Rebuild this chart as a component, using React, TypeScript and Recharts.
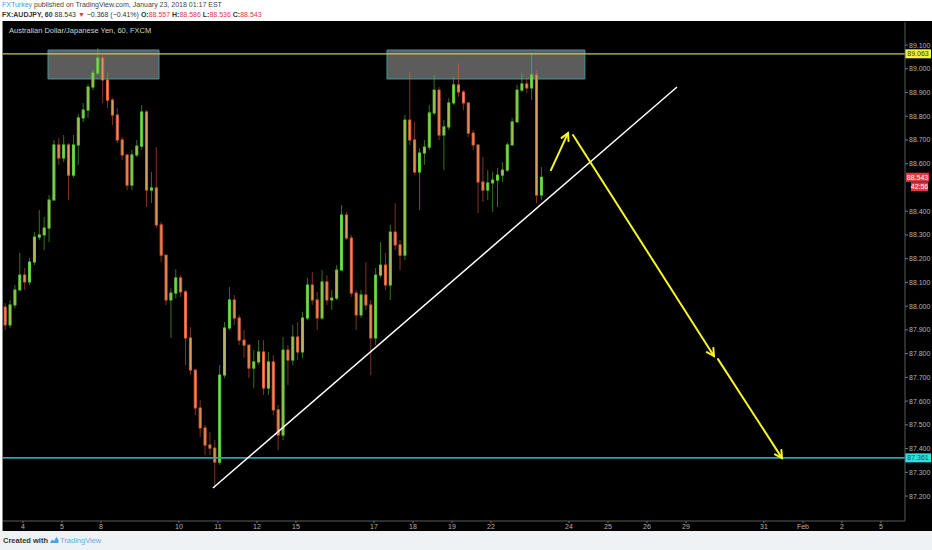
import React from 'react';
import {
    Bar,
    ComposedChart,
    ReferenceArea,
    ReferenceLine,
    XAxis,
    YAxis,
} from 'recharts';

// 3-hour candles, hours counted from the start of Jan 4 (trading hours only)
const FIRST_HOUR = -11;
const STEP_HOURS = 3;
const FIRST_OPEN = 87.996;

const closes = [
    87.921, 88.005, 88.068, 88.131, 88.102, 88.186, 88.291, 88.3, 88.329, 88.447,
    88.679, 88.624, 88.679, 88.552, 88.679, 88.793, 88.826, 88.923, 88.982, 89.045,
    88.953, 88.868, 88.805, 88.7, 88.637, 88.51, 88.637, 88.674, 88.818, 88.489,
    88.498, 88.342, 88.215, 88.026, 88.055, 88.119, 88.06, 87.866, 87.731, 87.571,
    87.487, 87.415, 87.402, 87.343, 87.71, 87.908, 88.026, 87.95, 87.857, 87.836,
    87.739, 87.765, 87.807, 87.655, 87.765, 87.563, 87.457, 87.815, 87.773, 87.87,
    87.807, 87.95, 88.089, 88.026, 87.95, 88.102, 88.026, 88.034, 88.152, 88.384,
    88.287, 88.055, 87.963, 88.047, 88.005, 87.866, 88.131, 88.173, 88.089, 88.312,
    88.258, 88.215, 88.784, 88.7, 88.565, 88.645, 88.67, 88.814, 88.91, 88.721,
    88.755, 88.856, 88.932, 88.902, 88.856, 88.729, 88.679, 88.523, 88.489, 88.519,
    88.531, 88.552, 88.573, 88.679, 88.776, 88.91, 88.936, 88.919, 88.974, 88.468,
    88.543,
];

const highs = [
    88.013, 88.026, 88.089, 88.224, 88.161, 88.203, 88.312, 88.405, 88.375, 88.468,
    88.7, 88.708, 88.721, 88.687, 88.721, 88.809, 88.856, 88.936, 88.995, 89.087,
    89.058, 88.986, 88.877, 88.835, 88.712, 88.637, 88.658, 88.7, 88.847, 88.826,
    88.565, 88.67, 88.354, 88.215, 88.076, 88.156, 88.131, 88.068, 87.912, 87.731,
    87.605, 87.499, 87.47, 87.436, 87.752, 87.933, 88.081, 88.047, 87.963, 87.899,
    87.836, 87.815, 87.857, 87.857, 87.807, 87.794, 87.584, 87.87, 87.836, 87.921,
    87.933, 87.975, 88.119, 88.144, 88.06, 88.152, 88.131, 88.068, 88.173, 88.426,
    88.397, 88.3, 88.068, 88.068, 88.186, 88.026, 88.161, 88.27, 88.224, 88.342,
    88.434, 88.279, 88.805, 88.986, 88.776, 88.666, 88.7, 88.847, 88.974, 88.923,
    88.784, 88.877, 88.965, 89.024, 88.91, 88.856, 88.742, 88.679, 88.628, 88.573,
    88.565, 88.582, 88.607, 88.691, 88.793, 88.932, 88.982, 88.961, 89.066, 88.995,
    88.586,
];

const lows = [
    87.899, 87.908, 87.992, 88.068, 88.068, 88.089, 88.173, 88.279, 88.236, 88.27,
    88.447, 88.595, 88.607, 88.447, 88.54, 88.595, 88.776, 88.793, 88.91, 88.974,
    88.856, 88.835, 88.763, 88.687, 88.616, 88.489, 88.489, 88.628, 88.658, 88.418,
    88.434, 88.329, 88.186, 88.005, 87.866, 88.034, 88.039, 87.752, 87.71, 87.541,
    87.449, 87.373, 87.373, 87.234, 87.331, 87.697, 87.899, 87.921, 87.836, 87.782,
    87.697, 87.655, 87.752, 87.626, 87.626, 87.541, 87.394, 87.436, 87.668, 87.752,
    87.773, 87.782, 87.942, 88.005, 87.899, 87.942, 88.005, 87.984, 88.026, 88.161,
    88.279, 88.039, 87.899, 87.95, 87.984, 87.71, 87.836, 88.119, 88.068, 88.026,
    88.236, 88.152, 88.194, 88.679, 88.552, 88.405, 88.595, 88.658, 88.805, 88.7,
    88.573, 88.742, 88.847, 88.881, 88.826, 88.712, 88.658, 88.392, 88.439, 88.447,
    88.397, 88.418, 88.523, 88.565, 88.691, 88.784, 88.902, 88.898, 88.868, 88.434,
    88.447,
];

// x axis: trading day start (in hours) and its label
const dayTicks = [0, 24, 48, 96, 120, 144, 168, 216, 240, 264, 288, 336, 360, 384, 408, 456, 480, 504, 528];
const dayLabels = ['4', '5', '8', '10', '11', '12', '15', '17', '18', '19', '22', '24', '25', '26', '29', '31', 'Feb', '2', '5'];

// 88.500 sits under the last-price tags, so it is left out
const priceTicks = [
    87.2, 87.3, 87.4, 87.5, 87.6, 87.7, 87.8, 87.9, 88.0, 88.1,
    88.2, 88.3, 88.4, 88.6, 88.7, 88.8, 88.9, 89.0, 89.1,
];

const X_DOMAIN = [-12.3, 542.8];
const Y_DOMAIN = [87.095, 89.197];

// drawings: [hour, price]
const resistanceLevel = 89.063;
const supportLevel = 87.361;
const lastPrice = 88.543;
const zones = [
    { x1: 15.4, x2: 83.7, y1: 88.957, y2: 89.079 },
    { x1: 224, x2: 345.8, y1: 88.957, y2: 89.079 },
];
const trendLine = [[116.9, 87.234], [402.5, 88.923]];
const arrows = [
    [[324.9, 88.573], [335.4, 88.729]],
    [[338.5, 88.721], [425.2, 87.79]],
    [[427.7, 87.777], [467.1, 87.36]],
];

const candles = closes.map((close, i) => {
    const open = i === 0 ? FIRST_OPEN : closes[i - 1];
    return {
        t: FIRST_HOUR + STEP_HOURS * i,
        open,
        close,
        high: highs[i],
        low: lows[i],
        range: [lows[i], highs[i]],
    };
});

function Candle(props: any) {
    const { x, y, width, height, payload } = props;
    if (payload == null || height == null) return null;
    const { open, close, high, low } = payload;
    const top = Math.min(y, y + height);
    const h = Math.abs(height);
    const k = high - low > 0 ? h / (high - low) : 0;
    const bodyTop = top + (high - Math.max(open, close)) * k;
    const bodyBottom = top + (high - Math.min(open, close)) * k;
    const up = close >= open;
    const edge = up ? '#5cd23c' : '#e5603c';
    const cx = x + width / 2;
    return (
        <g>
            <line x1={cx} x2={cx} y1={top} y2={top + h} stroke={edge} strokeOpacity={0.55} strokeWidth={1} />
            <rect
                x={cx - 1}
                y={bodyTop}
                width={2}
                height={Math.max(bodyBottom - bodyTop, 1)}
                fill={up ? '#c3b066' : '#d6a25c'}
                stroke={edge}
                strokeWidth={1}
            />
        </g>
    );
}

function Arrow(props: any) {
    const { x1, y1, x2, y2 } = props;
    const angle = Math.atan2(y2 - y1, x2 - x1);
    const len = 8;
    const spread = 0.5;
    const ax = x2 - len * Math.cos(angle - spread);
    const ay = y2 - len * Math.sin(angle - spread);
    const bx = x2 - len * Math.cos(angle + spread);
    const by = y2 - len * Math.sin(angle + spread);
    return (
        <g stroke="#f6f62a" strokeWidth={2} strokeLinecap="round" fill="none">
            <line x1={x1} y1={y1} x2={x2} y2={y2} />
            <polyline points={`${ax},${ay} ${x2},${y2} ${bx},${by}`} />
        </g>
    );
}

function priceTag(text: string, bg: string, fg: string, dy = 0, dx = 0, w = 26) {
    return (props: any) => {
        const vb = props.viewBox;
        if (!vb) return null;
        const x = vb.x + vb.width + dx;
        const y = vb.y + dy;
        return (
            <g>
                <rect x={x} y={y - 4.5} width={w} height={9} fill={bg} />
                <text x={x + w / 2} y={y + 2.5} textAnchor="middle" fontSize={7} fill={fg} fontFamily="Liberation Sans, Arial, sans-serif">
                    {text}
                </text>
            </g>
        );
    };
}

const red = '#e0393e';

export default function App() {
    return (
        <div
            style={{
                position: 'absolute',
                left: 0,
                top: 0,
                width: 932,
                height: 550,
                background: '#ffffff',
                fontFamily: 'Liberation Sans, Arial, sans-serif',
                overflow: 'hidden',
            }}
        >
            <div style={{ position: 'absolute', left: 2, top: 1, fontSize: 7, color: '#444', whiteSpace: 'nowrap' }}>
                <span style={{ color: '#3f9bd8' }}>FXTurkey</span> published on TradingView.com, January 23, 2018 01:17 EST
            </div>
            <div style={{ position: 'absolute', left: 2, top: 10.5, fontSize: 7, color: '#333', whiteSpace: 'nowrap' }}>
                <b>FX:AUDJPY, 60</b> 88.543 <span style={{ color: red }}>▼</span> −0.368 (−0.41%) <b>O:</b>
                <span style={{ color: red }}>88.557</span> <b>H:</b>
                <span style={{ color: red }}>88.586</span> <b>L:</b>
                <span style={{ color: red }}>88.536</span> <b>C:</b>
                <span style={{ color: red }}>88.543</span>
            </div>

            <div
                style={{
                    position: 'absolute',
                    left: 2,
                    top: 21,
                    width: 930,
                    height: 510,
                    background: '#000000',
                    borderLeft: '1px solid #8a8a8a',
                    boxSizing: 'border-box',
                }}
            >
                <ComposedChart width={929} height={510} data={candles} margin={{ top: 1, right: 0, left: 0, bottom: 0 }}>
                    <XAxis
                        dataKey="t"
                        type="number"
                        domain={X_DOMAIN}
                        allowDataOverflow
                        ticks={dayTicks}
                        tickFormatter={(v: number) => dayLabels[dayTicks.indexOf(v)] ?? ''}
                        tick={{ fontSize: 7, fill: '#b4b4b4' }}
                        tickSize={2}
                        tickMargin={1}
                        tickLine={{ stroke: '#777' }}
                        axisLine={{ stroke: '#5a5a5a' }}
                        height={10}
                        interval={0}
                    />
                    <YAxis
                        orientation="right"
                        type="number"
                        domain={Y_DOMAIN}
                        allowDataOverflow
                        ticks={priceTicks}
                        tickFormatter={(v: number) => v.toFixed(3)}
                        tick={{ fontSize: 7, fill: '#b4b4b4' }}
                        tickSize={3}
                        tickMargin={1}
                        tickLine={{ stroke: '#777' }}
                        axisLine={{ stroke: '#5a5a5a' }}
                        width={27}
                        interval={0}
                    />
                    <Bar dataKey="range" barSize={3} shape={<Candle />} isAnimationActive={false} />
                    {zones.map((z, i) => (
                        <ReferenceArea
                            key={i}
                            x1={z.x1}
                            x2={z.x2}
                            y1={z.y1}
                            y2={z.y2}
                            fill="#9a9a9a"
                            fillOpacity={0.6}
                            stroke="#3f9a9a"
                            strokeWidth={1}
                            ifOverflow="visible"
                        />
                    ))}
                    <ReferenceLine
                        y={resistanceLevel}
                        stroke="#c6c84a"
                        strokeWidth={1.2}
                        label={priceTag('89.063', '#f4f43a', '#333', 0, 0)}
                    />
                    <ReferenceLine
                        y={supportLevel}
                        stroke="#2fa5a5"
                        strokeWidth={1.6}
                        label={priceTag('87.361', '#2fe0e0', '#1b4f4f', 0, 0)}
                    />
                    <ReferenceLine
                        y={lastPrice}
                        strokeOpacity={0}
                        label={priceTag('88.543', red, '#ffffff', 0, 1, 23)}
                    />
                    <ReferenceLine
                        y={lastPrice}
                        strokeOpacity={0}
                        label={priceTag('42:56', red, '#ffffff', 9.5, 6, 17)}
                    />
                    <ReferenceLine
                        segment={[
                            { x: trendLine[0][0], y: trendLine[0][1] },
                            { x: trendLine[1][0], y: trendLine[1][1] },
                        ]}
                        stroke="#ffffff"
                        strokeWidth={1.5}
                        ifOverflow="visible"
                    />
                    {arrows.map((a, i) => (
                        <ReferenceLine
                            key={`arrow-${i}`}
                            segment={[
                                { x: a[0][0], y: a[0][1] },
                                { x: a[1][0], y: a[1][1] },
                            ]}
                            shape={(p: any) => <Arrow {...p} />}
                            ifOverflow="visible"
                        />
                    ))}
                </ComposedChart>
                <div style={{ position: 'absolute', left: 6, top: 5, fontSize: 7.5, color: '#d2d2d2', whiteSpace: 'nowrap' }}>
                    Australian Dollar/Japanese Yen, 60, FXCM
                </div>
            </div>

            <div
                style={{
                    position: 'absolute',
                    left: 0,
                    top: 531,
                    width: 932,
                    height: 19,
                    background: '#eef2f5',
                    fontSize: 7.5,
                    whiteSpace: 'nowrap',
                }}
            >
                <span style={{ position: 'absolute', left: 3, top: 5, color: '#333', fontWeight: 600 }}>Created with</span>
                <svg style={{ position: 'absolute', left: 49, top: 5 }} width={10} height={8} viewBox="0 0 10 8">
                    <path d="M1 7 L3 3.5 L5 5 L7.5 1 L9.5 4 L9.5 7 Z" fill="#4aa3df" />
                </svg>
                <span style={{ position: 'absolute', left: 60, top: 5, color: '#5aaee0' }}>TradingView</span>
            </div>
        </div>
    );
}
